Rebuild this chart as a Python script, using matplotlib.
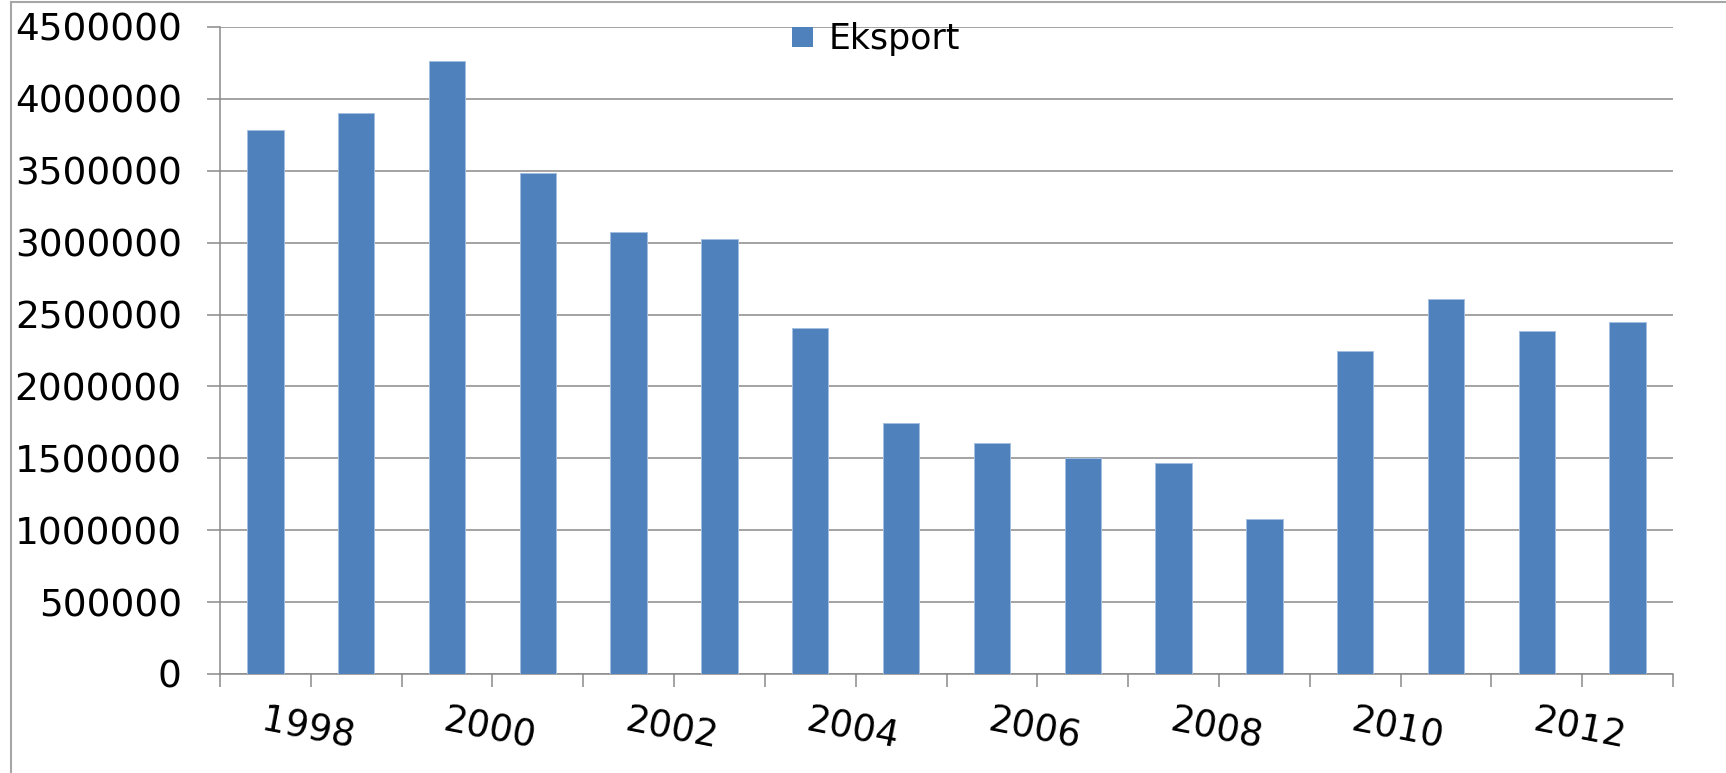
#!/usr/bin/env python3
"""Bar chart of yearly export (Eksport), 1998-2013."""

import matplotlib

matplotlib.use("Agg")

import matplotlib.pyplot as plt
import numpy as np
from matplotlib.lines import Line2D
from matplotlib.patches import Patch

years = list(range(1998, 2014))
eksport = [
    3785000, 3900000, 4262000, 3484000, 3076000, 3024000, 2408000, 1748000,
    1609000, 1502000, 1470000, 1076000, 2248000, 2609000, 2387000, 2451000,
]
y_ticks = list(range(0, 4500001, 500000))
label_years = years[::2]

BAR = "#4f81bd"
GRID = "#8a8a8a"
FRAME = "#a6a6a6"
W, H = 1726, 773


def main() -> None:
    plt.rcParams["font.family"] = ["DejaVu Sans"]
    fig = plt.figure(figsize=(W / 100, H / 100), dpi=100)
    ax = fig.add_axes([220 / W, 1 - 674 / H, (1673 - 220) / W, (674 - 27) / H])

    x = np.arange(len(years))
    ax.bar(x, eksport, width=0.4, color=BAR, edgecolor="#a4bee0", linewidth=0.7, zorder=3)

    ax.set_xlim(-0.5, len(years) - 0.5)
    ax.set_ylim(0, 4500000)
    ax.set_yticks(y_ticks)
    ax.set_yticklabels([str(v) for v in y_ticks], fontsize=27)

    # tick marks sit between categories, labels start at every other bar centre
    ax.set_xticks(np.arange(-0.5, len(years), 1.0))
    ax.set_xticklabels([])
    ax.set_xticks([years.index(y) for y in label_years], minor=True)
    ax.set_xticklabels([str(y) for y in label_years], minor=True, fontsize=26.5,
                       rotation=-11, ha="left", va="top", rotation_mode="anchor")

    ax.tick_params(axis="x", which="major", length=9, width=1.1, color=GRID)
    ax.tick_params(axis="x", which="minor", length=0, pad=20)
    ax.tick_params(axis="y", length=9.5, width=1.1, color=GRID, pad=18)

    ax.grid(axis="y", color=GRID, linewidth=1.1, zorder=0)
    ax.set_axisbelow(True)
    for side in ("top", "right"):
        ax.spines[side].set_visible(False)
    for side in ("left", "bottom"):
        ax.spines[side].set_color(GRID)
        ax.spines[side].set_linewidth(1.1)

    fig.legend(
        handles=[Patch(facecolor=BAR, label="Eksport")],
        loc="center left",
        bbox_to_anchor=(792 / W, 1 - 39 / H),
        frameon=False,
        fontsize=25,
        borderpad=0,
        borderaxespad=0,
        handlelength=0.6,
        handleheight=0.5,
        handletextpad=0.45,
    )

    # outer chart frame, cropped on the right and bottom
    fig.add_artist(Line2D([11 / W, 1], [1 - 2 / H, 1 - 2 / H], color=FRAME, lw=1.5))
    fig.add_artist(Line2D([11 / W, 11 / W], [0, 1 - 2 / H], color=FRAME, lw=1.5))

    fig.savefig("out.png", dpi=100)
    plt.close(fig)


if __name__ == "__main__":
    main()
